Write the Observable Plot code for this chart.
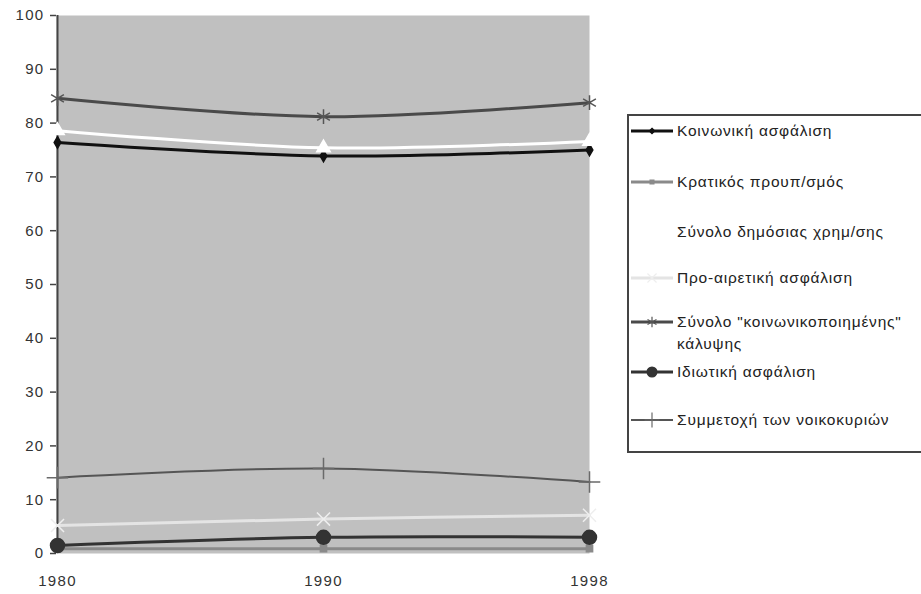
<!DOCTYPE html>
<html>
<head>
<meta charset="utf-8">
<script src="https://cdn.jsdelivr.net/npm/d3@7"></script>
<script src="https://cdn.jsdelivr.net/npm/@observablehq/plot@0.6"></script>
<style>
  html, body { margin: 0; padding: 0; background: #fff; }
  #wrap { position: relative; width: 921px; height: 594px; overflow: hidden; font-family: "Liberation Sans", Arial, sans-serif; }
  #legend { position: absolute; left: 627px; top: 114px; width: 310px; height: 339px; border: 2px solid #444; background: #fff; box-sizing: border-box; }
  .item { position: absolute; left: 0; display: flex; align-items: flex-start; }
  .item svg { flex: none; }
  .item span { font-size: 15.5px; letter-spacing: 0.8px; color: #222; line-height: 22px; margin-left: 2px; }
</style>
</head>
<body>
<div id="wrap"><div id="chart"></div><div id="legend"></div></div>
<script>
// ---- data ----
const years = ["1980", "1990", "1998"];
const seriesNames = [
  "Κοινωνική ασφάλιση",
  "Κρατικός προυπ/σμός",
  "Σύνολο δημόσιας χρημ/σης",
  "Προ-αιρετική ασφάλιση",
  "Σύνολο \"κοινωνικοποιημένης\" κάλυψης",
  "Ιδιωτική ασφάλιση",
  "Συμμετοχή των νοικοκυριών"
];
const koinonikiAsfalisi   = [76.4, 73.9, 75.0];
const kratikosProyp       = [0.9, 0.9, 0.9];
const synoloDimosias      = [78.6, 75.4, 76.6];
const proairetiki         = [5.2, 6.4, 7.1];
const synoloKoinonikop    = [84.6, 81.2, 83.8];
const idiotikiAsfalisi    = [1.5, 3.0, 3.0];
const symmetochiNoikokyr  = [14.1, 15.8, 13.3];
const yTicks = [0, 10, 20, 30, 40, 50, 60, 70, 80, 90, 100];

const seriesValues = [koinonikiAsfalisi, kratikosProyp, synoloDimosias, proairetiki, synoloKoinonikop, idiotikiAsfalisi, symmetochiNoikokyr];

// ---- styles ----
const styles = [
  {stroke: "#111", width: 3, symbol: "diamond", r: 3.5, fill: "#111", mstroke: "#111"},
  {stroke: "#8a8a8a", width: 3, symbol: "square", r: 3.5, fill: "#8a8a8a", mstroke: "#8a8a8a"},
  {stroke: "#ffffff", width: 3, symbol: "triangle", r: 5, fill: "#ffffff", mstroke: "#ffffff"},
  {stroke: "#e4e4e4", width: 3, symbol: "times", r: 6, fill: "none", mstroke: "#eeeeee"},
  {stroke: "#4a4a4a", width: 3, symbol: "asterisk", r: 7, fill: "none", mstroke: "#555"},
  {stroke: "#333", width: 3, symbol: "circle", r: 7, fill: "#333", mstroke: "#333"},
  {stroke: "#555", width: 2, symbol: "plus", r: 7, fill: "none", mstroke: "#6a6a6a"}
];

const table = [];
seriesNames.forEach((name, i) => {
  years.forEach((yr, j) => table.push({series: name, idx: i, year: yr, value: seriesValues[i][j]}));
});

const marks = [
  Plot.frame({fill: "#c0c0c0", stroke: null}),
  Plot.axisY({ticks: yTicks, tickSize: 6, tickPadding: 6, label: null, stroke: "#444", fill: "#333", strokeWidth: 1.5}),
  Plot.axisX({tickSize: 0, tickPadding: 22, label: null, fill: "#333"}),
  Plot.ruleX([years[0]], {stroke: "#444", strokeWidth: 2})
];
seriesNames.forEach((name, i) => {
  const s = styles[i];
  const rows = table.filter(d => d.idx === i);
  marks.push(Plot.line(rows, {x: "year", y: "value", stroke: s.stroke, strokeWidth: s.width, curve: "catmull-rom"}));
  marks.push(Plot.dot(rows, {x: "year", y: "value", symbol: () => s.symbol, r: s.r, fill: s.fill, stroke: s.mstroke, strokeWidth: 1.5}));
});

const chart = Plot.plot({
  width: 921, height: 594,
  marginLeft: 56, marginRight: 332, marginTop: 15, marginBottom: 41,
  style: {fontFamily: "'Liberation Sans', Arial, sans-serif", fontSize: "15px", background: "transparent", letterSpacing: "1.3px"},
  x: {type: "point", domain: years, padding: 0, label: null, axis: null},
  y: {domain: [0, 100], label: null, axis: null},
  symbol: {type: "identity"},
  marks
});
document.getElementById("chart").appendChild(chart);

// ---- legend ----
const legend = d3.select("#legend");
const itemTops = [4, 55, 105, 151, 195, 245, 293];
const symMap = {diamond: d3.symbolDiamond2, square: d3.symbolSquare2, triangle: d3.symbolTriangle2, times: d3.symbolTimes, asterisk: d3.symbolAsterisk, circle: d3.symbolCircle, plus: d3.symbolPlus};
seriesNames.forEach((name, i) => {
  const s = styles[i];
  const item = legend.append("div").attr("class", "item").style("top", itemTops[i] + "px");
  const svg = item.append("svg").attr("width", 46).attr("height", 22);
  svg.append("line").attr("x1", 2).attr("x2", 44).attr("y1", 11).attr("y2", 11)
    .attr("stroke", s.stroke).attr("stroke-width", s.width);
  const size = Math.PI * (s.r * 0.7) ** 2;
  svg.append("path").attr("transform", "translate(23,11)")
    .attr("d", d3.symbol(symMap[s.symbol], size)())
    .attr("fill", s.fill).attr("stroke", s.mstroke).attr("stroke-width", 1.2);
  const label = item.append("span");
  if (i === 4) {
    label.html("Σύνολο \"κοινωνικοποιημένης\"<br>κάλυψης");
  } else label.text(name);
});
</script>
</body>
</html>
